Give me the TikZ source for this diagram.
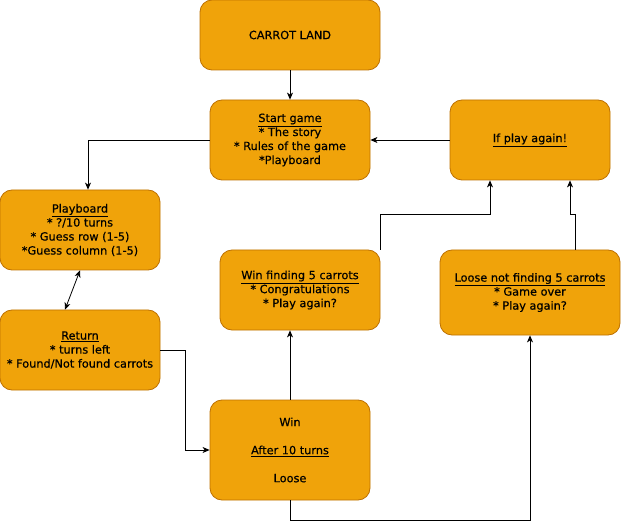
\documentclass[tikz,border=0pt]{standalone}
\usepackage{fontspec}
\setmainfont{DejaVu Sans}[FakeBold=0.5]
\usepackage{xcolor}
\usetikzlibrary{arrows.meta, positioning}

\definecolor{CarrotFill}{HTML}{F0A30A}
\definecolor{CarrotLine}{HTML}{BD7000}

\tikzset{
  stepbox/.style={draw=CarrotLine, fill=CarrotFill, line width=0.8pt, rounded corners=12pt,
    minimum width=160pt, minimum height=80pt, align=center, inner sep=1pt,
    font=\fontsize{11.3}{14}\selectfont},
  arr/.style={-{Stealth[length=7pt, width=6pt, inset=2pt]}, line width=0.8pt},
  dblarr/.style={{Stealth[length=7pt, width=6pt, inset=2pt]}-{Stealth[length=7pt, width=6pt, inset=2pt]}, line width=0.8pt}
}

\begin{document}
\begin{tikzpicture}[x=1pt, y=-1pt]
    \useasboundingbox (0,0) rectangle (621,529);

    % === boxes ===
    \node[stepbox, minimum width=180pt, minimum height=70pt] (land) at (290,35) {CARROT LAND};
    \node[stepbox] (start) at (290,140) {\underline{Start game}\\* The story\\* Rules of the game\\*Playboard};
    \node[stepbox] (again) at (530,140) {\underline{If play again!}};
    \node[stepbox] (play) at (80,230) {\underline{Playboard}\\* ?/10 turns\\* Guess row (1-5)\\*Guess column (1-5)};
    \node[stepbox] (ret) at (80,350) {\underline{Return}\\* turns left\\* Found/Not found carrots};
    \node[stepbox] (winc) at (300,290) {\underline{Win finding 5 carrots}\\* Congratulations\\* Play again?};
    \node[stepbox, minimum width=180pt, minimum height=85pt] (lose) at (530,292.5) {\underline{Loose not finding 5 carrots}\\* Game over\\* Play again?};
    \node[stepbox, minimum height=100pt] (turns) at (290,450) {Win\\[14pt]\underline{After 10 turns}\\[14pt]Loose};

    % === connectors ===
    \draw[arr] (land) -- (start);
    \draw[arr] (again) -- (start);
    \draw[arr] (start.west) -| ([xshift=8pt]play.north);
    \draw[dblarr] (play.south) -- ([xshift=-15pt]ret.north);
    \draw[arr] (ret.east) -- ++(25,0) |- (turns.west);
    \draw[arr] (turns.north) -- (turns.north |- winc.south);
    \draw[arr] (turns.south) -- ++(0,20) -| (lose.south);
    \draw[arr] (winc.north east) -- ++(0,-35) -| ([xshift=-40pt]again.south);
    \draw[arr] ([xshift=45pt]lose.north) -- ++(0,-35) -| ([xshift=40pt]again.south);
\end{tikzpicture}
\end{document}
